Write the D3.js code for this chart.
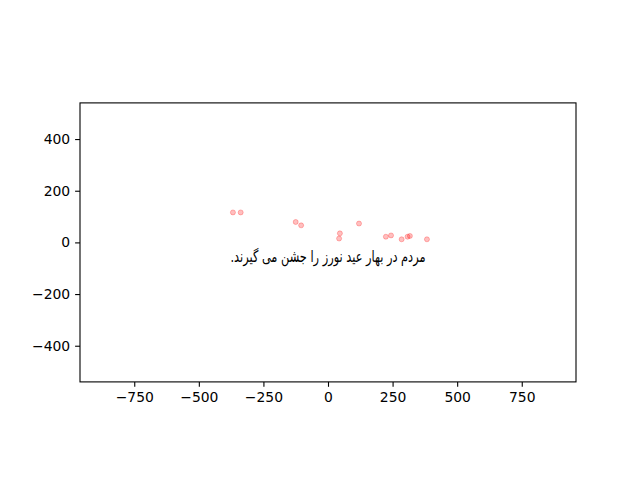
<!DOCTYPE html>
<html>
<head>
<meta charset="utf-8">
<script src="https://cdn.jsdelivr.net/npm/d3@7"></script>
<style>
  body { margin: 0; background: #fff; }
  svg { display: block; }
  .tick text { font-family: "DejaVu Sans", sans-serif; font-size: 13.9px; fill: #000; }
</style>
</head>
<body>
<svg id="chart" width="640" height="480"></svg>
<script>
// points (data units)
const xs = [-368, -338, -125, -104, 120, 46, 43, 224, 244, 285, 308, 317, 383];
const ys = [116, 116, 79, 66, 73, 35, 15, 22, 27, 12, 22, 25, 12];
const xTicks = [-750, -500, -250, 0, 250, 500, 750];
const yTicks = [-400, -200, 0, 200, 400];
const label = "مردم در بهار عید نورز را جشن می گیرند.";
const labelPos = [0, -53];

const svg = d3.select("#chart");
const plotL = 80, plotR = 576, plotT = 102.9, plotB = 381.9;

const x = d3.scaleLinear().domain([-960, 960]).range([plotL, plotR]);
const y = d3.scaleLinear().domain([-540, 540]).range([plotB, plotT]);

// points
svg.append("g").selectAll("circle").data(xs.map((v, i) => [v, ys[i]])).join("circle")
    .attr("cx", d => x(d[0])).attr("cy", d => y(d[1])).attr("r", 2.5)
    .attr("fill", "red").attr("fill-opacity", 0.25)
    .attr("stroke", "red").attr("stroke-opacity", 0.25).attr("stroke-width", 1);

// label (rtl so the full stop lands on the left)
svg.append("text")
    .attr("x", x(labelPos[0])).attr("y", y(labelPos[1]))
    .attr("text-anchor", "middle").attr("dominant-baseline", "central")
    .attr("direction", "rtl").style("unicode-bidi", "embed")
    .attr("textLength", 195).attr("lengthAdjust", "spacingAndGlyphs")
    .style("font-family", "'DejaVu Sans', sans-serif").style("font-size", "16px")
    .text(label);

// axes
const fmt = d => d < 0 ? "\u2212" + Math.abs(d) : d;
const xAxis = d3.axisBottom(x).tickValues(xTicks).tickSize(4.9).tickPadding(4.9).tickFormat(fmt);
const yAxis = d3.axisLeft(y).tickValues(yTicks).tickSize(4.9).tickPadding(4.9).tickFormat(fmt);

svg.append("g").attr("transform", `translate(0,${plotB})`).call(xAxis)
    .call(g => g.select(".domain").remove())
    .call(g => g.selectAll("line").attr("stroke", "#000").attr("stroke-width", 1.1));
svg.append("g").attr("transform", `translate(${plotL},0)`).call(yAxis)
    .call(g => g.select(".domain").remove())
    .call(g => g.selectAll("line").attr("stroke", "#000").attr("stroke-width", 1.1));

// frame
svg.append("rect").attr("x", plotL).attr("y", plotT)
    .attr("width", plotR - plotL).attr("height", plotB - plotT)
    .attr("fill", "none").attr("stroke", "#000").attr("stroke-width", 1.1);
</script>
</body>
</html>
